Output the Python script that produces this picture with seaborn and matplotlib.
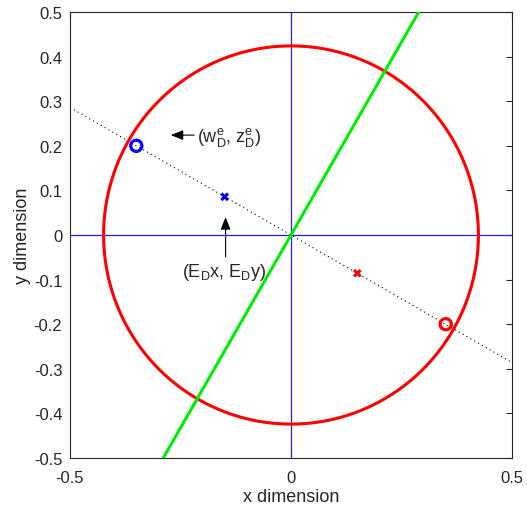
import numpy as np
import pandas as pd
import matplotlib
matplotlib.use("Agg")
import matplotlib.pyplot as plt
import seaborn as sns

# chart values
circle_radius = 0.424
green_x = [-0.289, 0.289]
green_y = [-0.5, 0.5]
dotted_x = [-0.5, 0.5]
dotted_y = [0.286, -0.286]
ring_x = [-0.35, 0.35]
ring_y = [0.2, -0.2]
ring_colors = ["#0000ff", "#ff0000"]
cross_x = [-0.15, 0.15]
cross_y = [0.0857, -0.0857]
cross_colors = ["#0000ff", "#ff0000"]
x_ticks = [-0.5, 0, 0.5]
y_ticks = [-0.5, -0.4, -0.3, -0.2, -0.1, 0, 0.1, 0.2, 0.3, 0.4, 0.5]

sns.set_style("white")
plt.rcParams["font.family"] = ["Liberation Sans", "DejaVu Sans"]
plt.rcParams["mathtext.fontset"] = "custom"
plt.rcParams["mathtext.rm"] = "Liberation Sans"
plt.rcParams["mathtext.it"] = "Liberation Sans"
plt.rcParams["mathtext.default"] = "regular"

fig = plt.figure(figsize=(5.27, 5.10), dpi=100)
ax = fig.add_axes([70 / 527, 51 / 510, 442 / 527, 446 / 510])

# axis cross lines
ax.axhline(0, color="#2020ff", lw=0.9, zorder=1)
ax.axvline(0, color="#2020ff", lw=0.9, zorder=1)

# circle
theta = np.linspace(0, 2 * np.pi, 400)
circle = pd.DataFrame({"x": circle_radius * np.cos(theta), "y": circle_radius * np.sin(theta)})
sns.lineplot(data=circle, x="x", y="y", sort=False, estimator=None, color="#ff0000", lw=2.2, ax=ax, zorder=3)

# green line
sns.lineplot(x=green_x, y=green_y, color="#00ee00", lw=2.2, ax=ax, zorder=3)

# dotted line
sns.lineplot(x=dotted_x, y=dotted_y, color="black", lw=0.8, linestyle=(0, (1, 3)), ax=ax, zorder=2)

# open ring markers
sns.scatterplot(x=ring_x, y=ring_y, marker="o", s=65, legend=False, ax=ax, zorder=5)
rings = ax.collections[-1]
rings.set_facecolor("none")
rings.set_edgecolor(ring_colors)
rings.set_linewidth(2.3)

# cross markers
sns.scatterplot(x=cross_x, y=cross_y, hue=cross_colors, palette=dict(zip(cross_colors, cross_colors)),
                marker="X", s=40, linewidth=0, legend=False, ax=ax, zorder=5)

# annotations
arrow = dict(arrowstyle="-|>,head_length=0.75,head_width=0.3", color="black", lw=0.8,
             shrinkA=0, shrinkB=0)
ax.annotate("", xy=(-0.272, 0.224), xytext=(-0.219, 0.224), arrowprops=arrow)
ax.text(-0.212, 0.22, "(w$_D^e$, z$_D^e$)", fontsize=13, va="center", ha="left")
ax.annotate("", xy=(-0.148, 0.04), xytext=(-0.148, -0.049), arrowprops=arrow)
ax.text(-0.152, -0.082, "(E$_D$x, E$_D$y)", fontsize=13, va="center", ha="center")

ax.set_xlim(-0.5, 0.5)
ax.set_ylim(-0.5, 0.5)
ax.set_xticks(x_ticks)
ax.set_xticklabels(["-0.5", "0", "0.5"])
ax.set_yticks(y_ticks)
ax.set_yticklabels(["-0.5", "-0.4", "-0.3", "-0.2", "-0.1", "0", "0.1", "0.2", "0.3", "0.4", "0.5"])
ax.tick_params(direction="in", length=4, width=0.8, top=True, right=True, labelsize=12,
               colors="#262626")
ax.tick_params(axis="x", pad=9)
ax.tick_params(axis="y", pad=5.5)
ax.set_xlabel("x dimension", fontsize=13, color="#262626", labelpad=2)
ax.set_ylabel("y dimension", fontsize=13, color="#262626", labelpad=2)
for sp in ax.spines.values():
    sp.set_color("#262626")
    sp.set_linewidth(0.8)

fig.savefig("out.png", dpi=100)
